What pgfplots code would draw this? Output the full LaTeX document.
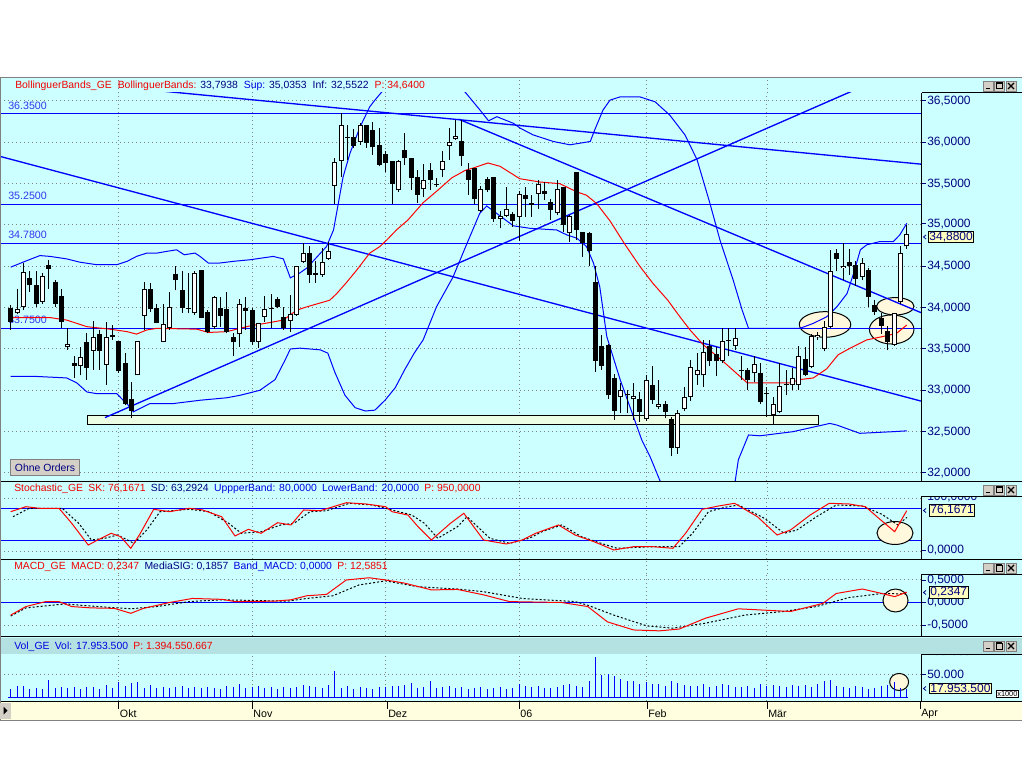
\documentclass[border=0pt]{standalone}
\usepackage{fontspec}
\setmainfont{Liberation Sans}
\usepackage{pgfplots}
\pgfplotsset{compat=1.18}
\usepackage{pgfplotstable}
\definecolor{bg}{HTML}{CCFFFF}
\definecolor{navy}{HTML}{000080}
\definecolor{hred}{HTML}{F00000}
\definecolor{bblue}{HTML}{0000FF}
\definecolor{tblue}{HTML}{0000E0}
\definecolor{lbl}{HTML}{3535F0}
\definecolor{zone}{HTML}{ECFFE4}
\definecolor{cream}{HTML}{FFF8DC}
\definecolor{volhdr}{HTML}{B4E2E2}
\definecolor{strip}{HTML}{FFFFE0}
\definecolor{btn}{HTML}{D4D0C8}
\definecolor{tagy}{HTML}{FFFFC0}
\definecolor{gridc}{HTML}{808080}
\newcommand\hdr{\fontsize{7.8}{9}\selectfont}
\newcommand\lab{\fontsize{9}{10.8}\selectfont}
\newcommand\mon{\fontsize{8}{9.6}\selectfont}
\newcommand\hl{\fontsize{8}{9.6}\selectfont}

\pgfplotstableread{
k hi lo top bot w
0 34.03 33.73 34.00 33.83 0
1 34.23 33.92 33.98 33.94 1
2 34.54 33.97 34.43 34.01 1
3 34.44 34.19 34.36 34.27 0
4 34.44 34.01 34.27 34.05 0
5 34.42 34.05 34.38 34.07 1
6 34.58 34.23 34.52 34.47 0
7 34.33 34.01 34.31 34.05 0
8 34.23 33.75 34.14 33.83 0
9 33.75 33.49 33.56 33.52 1
10 33.41 33.15 33.33 33.30 0
11 33.53 33.18 33.40 33.30 1
12 33.69 33.13 33.58 33.27 0
13 33.84 33.25 33.64 33.48 1
14 33.73 33.25 33.68 33.48 0
15 33.83 33.06 33.65 33.31 1
16 33.79 33.61 33.67 33.65 0
17 33.60 33.21 33.60 33.23 0
18 33.45 32.82 33.33 32.84 0
19 33.10 32.66 32.90 32.75 0
20 33.60 33.18 33.60 33.18 1
21 34.31 33.73 34.22 33.90 1
22 34.30 33.95 34.23 33.98 0
23 34.05 33.81 33.99 33.82 0
24 34.05 33.58 33.80 33.58 1
25 34.19 33.73 34.01 33.75 1
26 34.50 34.21 34.41 34.33 0
27 34.44 33.94 34.21 34.00 0
28 34.42 33.93 34.00 33.99 0
29 34.44 33.91 34.42 33.93 1
30 34.46 33.87 34.46 33.88 0
31 33.97 33.69 33.95 33.71 0
32 34.14 33.74 34.13 33.77 1
33 34.13 33.77 34.00 33.90 0
34 34.19 33.69 33.98 33.71 0
35 33.69 33.41 33.64 33.58 0
36 34.11 33.53 34.05 33.68 1
37 34.13 33.73 34.00 33.96 0
38 33.99 33.55 33.97 33.59 0
39 33.81 33.51 33.81 33.59 1
40 34.14 33.83 33.98 33.89 1
41 34.17 33.75 34.00 33.98 1
42 34.13 33.99 34.10 34.01 0
43 34.01 33.73 33.89 33.75 0
44 34.15 33.71 33.92 33.84 1
45 34.50 33.90 34.50 33.91 1
46 34.78 34.54 34.66 34.55 1
47 34.74 34.30 34.66 34.40 0
48 34.56 34.30 34.42 34.40 0
49 34.72 34.37 34.55 34.39 1
50 34.79 34.58 34.68 34.59 1
51 35.81 35.25 35.76 35.47 1
52 36.35 35.58 36.21 35.77 1
53 36.21 35.79 36.07 36.06 0
54 36.16 35.93 36.06 35.96 0
55 36.23 35.97 36.21 36.01 1
56 36.21 35.93 36.21 35.99 0
57 36.24 35.85 36.15 35.94 0
58 36.17 35.71 35.97 35.73 0
59 35.89 35.64 35.86 35.75 0
60 35.77 35.25 35.77 35.50 0
61 35.79 35.40 35.78 35.42 1
62 36.11 35.73 35.91 35.81 0
63 35.81 35.42 35.81 35.57 0
64 35.67 35.27 35.58 35.36 0
65 35.74 35.34 35.54 35.43 1
66 35.75 35.42 35.67 35.55 0
67 35.57 35.46 35.50 35.48 0
68 35.90 35.58 35.78 35.67 1
69 36.17 35.79 36.01 35.96 1
70 36.27 36.03 36.08 36.04 1
71 36.27 35.71 36.02 35.83 0
72 35.75 35.36 35.67 35.55 0
73 35.69 35.25 35.69 35.31 0
74 35.47 35.16 35.43 35.17 1
75 35.58 35.40 35.56 35.42 0
76 35.58 35.04 35.58 35.07 0
77 35.17 34.96 35.11 35.07 1
78 35.46 35.10 35.19 35.11 1
79 35.16 34.98 35.13 35.05 0
80 35.41 34.81 35.37 35.10 1
81 35.46 35.10 35.36 35.31 0
82 35.36 35.10 35.27 35.24 0
83 35.54 35.19 35.50 35.38 1
84 35.52 35.30 35.41 35.38 0
85 35.32 35.06 35.28 35.18 0
86 35.55 35.12 35.43 35.14 1
87 35.46 34.92 35.46 35.00 0
88 35.12 34.80 35.11 34.90 1
89 35.64 34.82 35.64 34.94 0
90 34.92 34.61 34.91 34.78 0
91 34.91 34.50 34.90 34.68 0
92 34.50 33.22 34.31 33.36 0
93 33.67 33.25 33.54 33.29 0
94 33.56 32.90 33.55 32.94 0
95 33.20 32.64 33.15 32.75 0
96 33.09 32.72 33.00 32.92 1
97 33.01 32.72 32.95 32.94 0
98 33.09 32.64 32.93 32.89 1
99 32.98 32.62 32.89 32.74 0
100 33.19 32.63 33.13 32.65 1
101 33.29 32.84 33.06 32.88 0
102 33.13 32.77 32.84 32.80 1
103 32.87 32.66 32.84 32.74 0
104 32.68 32.20 32.65 32.30 0
105 32.76 32.23 32.73 32.30 1
106 33.04 32.75 32.92 32.77 1
107 33.37 32.87 33.28 32.92 1
108 33.45 33.07 33.25 33.19 1
109 33.61 33.04 33.46 33.18 1
110 33.61 33.29 33.54 33.35 0
111 33.53 33.17 33.44 33.35 0
112 33.75 33.33 33.60 33.35 1
113 33.75 33.41 33.61 33.60 0
114 33.75 33.49 33.63 33.54 1
115 33.41 33.13 33.25 33.24 0
116 33.27 33.00 33.24 33.13 0
117 33.41 33.10 33.32 33.21 1
118 33.33 32.83 33.21 32.86 0
119 33.04 32.68 32.97 32.96 0
120 32.92 32.58 32.84 32.70 1
121 33.33 32.72 33.05 32.74 1
122 33.24 32.94 33.08 33.06 0
123 33.27 33.00 33.15 33.06 1
124 33.54 33.00 33.42 33.06 1
125 33.53 33.17 33.38 33.19 0
126 33.68 33.27 33.66 33.28 1
127 33.70 33.61 33.67 33.64 1
128 33.84 33.47 33.77 33.50 1
129 34.70 33.75 34.44 33.77 1
130 34.71 34.44 34.66 34.59 0
131 34.78 34.33 34.51 34.48 1
132 34.71 34.40 34.55 34.50 0
133 34.57 34.26 34.52 34.35 0
134 34.60 34.33 34.54 34.37 1
135 34.48 34.01 34.46 34.13 0
136 34.09 33.91 34.03 33.95 0
137 33.93 33.68 33.87 33.78 0
138 33.78 33.49 33.72 33.59 0
139 33.93 33.54 33.93 33.55 1
140 34.75 34.05 34.66 34.07 1
141 35.00 34.71 34.89 34.74 1
}\candles

\pgfplotstableread{
k v
0 19
1 25
2 25
3 19
4 21
5 17
6 38
7 20
8 22
9 20
10 23
11 19
12 22
13 23
14 19
15 27
16 21
17 34
18 25
19 32
20 34
21 21
22 27
23 20
24 22
25 21
26 23
27 24
28 20
29 22
30 21
31 22
32 20
33 19
34 25
35 23
36 30
37 20
38 22
39 25
40 20
41 23
42 19
43 22
44 20
45 23
46 27
47 24
48 22
49 20
50 26
51 57
52 21
53 24
54 18
55 22
56 21
57 19
58 23
59 22
60 25
61 24
62 26
63 32
64 21
65 23
66 36
67 20
68 22
69 24
70 21
71 23
72 19
73 21
74 22
75 17
76 20
77 23
78 18
79 20
80 28
81 24
82 22
83 25
84 21
85 20
86 23
87 26
88 30
89 24
90 22
91 36
92 88
93 48
94 50
95 47
96 40
97 36
98 35
99 30
100 33
101 28
102 30
103 25
104 35
105 31
106 27
107 24
108 25
109 30
110 22
111 24
112 28
113 26
114 23
115 22
116 25
117 21
118 28
119 24
120 26
121 25
122 22
123 27
124 24
125 26
126 23
127 28
128 36
129 38
130 24
131 23
132 21
133 25
134 22
135 19
136 20
137 24
138 26
139 34
140 20
141 17.95
}\vols

\pgfplotsset{panel/.style={anchor=south west, scale only axis, width=690.75pt,
  xmin=-1.6837, xmax=143.242, axis line style={draw=none},
  xtick={17,38,59,80,100,119}, xticklabels={}, yticklabels={}, major tick length=0pt,
  grid=major, major grid style={gridc, line width=0.75pt, dash pattern=on 0.75pt off 2.25pt}}}

\newcommand\rl[2]{\draw[navy,line width=0.75pt] (922,#1) -- (926,#1); \node[anchor=west,inner sep=0,text=navy,font=\lab] at (927,#1) {#2};}
\newcommand\btns[1]{%
 \draw[gridc, fill=btn, line width=0.5pt] (983,#1) rectangle (993,{#1+10});
 \draw[black, line width=1.2pt] (985.5,{#1+7.5}) -- (989.5,{#1+7.5});
 \draw[gridc, fill=btn, line width=0.5pt] (994,#1) rectangle (1004,{#1+10});
 \draw[black, line width=0.75pt] (996,{#1+2}) rectangle (1002,{#1+8});
 \draw[black, line width=1.3pt] (996,{#1+2}) -- (1002,{#1+2});
 \draw[gridc, fill=btn, line width=0.5pt] (1006,#1) rectangle (1016,{#1+10});
 \draw[black, line width=1pt] (1008,{#1+2}) -- (1014,{#1+8}) (1008,{#1+8}) -- (1014,{#1+2});}
\newcommand\tag[3]{\node[draw=black, fill=tagy, inner sep=0.7pt, anchor=west, font=\lab, text=navy, line width=0.75pt] at (#1,#2) {#3};
 \draw[navy, line width=0.6pt] (926,{#2-2}) -- (923.5,#2) -- (926,{#2+2});}

\begin{document}
\begin{tikzpicture}
\useasboundingbox (0,0) rectangle (768pt,576pt);
\begin{scope}[x=0.75pt,y=-0.75pt,yshift=576pt]
 \fill[white] (0,0) rectangle (1024,768);
 \fill[bg] (0,78) rectangle (1022,701.5);
 \fill[strip] (0,701.5) rectangle (1022,720);
 % right scale labels
 \rl{101}{36,5000} \rl{142.3}{36,0000} \rl{183.7}{35,5000} \rl{224}{35,0000}
 \rl{266.3}{34,5000} \rl{307.7}{34,0000} \rl{349}{33,5000} \rl{390.3}{33,0000}
 \rl{431.7}{32,5000} \rl{473}{32,0000}
 \rl{497}{100,0000} \rl{550.5}{0,0000}
 \rl{580}{0,5000} \rl{602.5}{0,0000} \rl{625}{-0,5000}
 \rl{651.5}{100.000} \rl{674.3}{50.000}
 \fill[bg] (922,482) rectangle (1022,496.5);
 \fill[volhdr] (0,638) rectangle (1022,654);
 % header grid segments
 \foreach \xx in {118.7,252.2,385.6,519.1,646.2,767.0} {
   \draw[gridc, line width=0.75pt, dash pattern=on 0.75pt off 2.25pt] (\xx,80) -- (\xx,93);
   \draw[gridc, line width=0.75pt, dash pattern=on 0.75pt off 2.25pt] (\xx,483) -- (\xx,496.5);
   \draw[gridc, line width=0.75pt, dash pattern=on 0.75pt off 2.25pt] (\xx,561) -- (\xx,574);
 }
\end{scope}

% ================= MAIN PRICE PANEL =================
\begin{axis}[panel, at={(0pt,215.25pt)}, height=291pt, ymin=31.9032, ymax=36.5968,
  ytick={32,32.5,...,36.5}]
 \draw[fill=zone, line width=0.75pt] (axis cs:12.05,32.693) rectangle (axis cs:127.08,32.591);
 \draw[fill=cream, line width=0.75pt] (axis cs:139.2,34.017) ellipse [x radius=14pt, y radius=6.5pt];
 \draw[fill=cream, line width=0.75pt] (axis cs:138.63,33.736) ellipse [x radius=16.7pt, y radius=10.9pt];
 \draw[fill=cream, line width=0.75pt] (axis cs:128.14,33.797) ellipse [x radius=19.3pt, y radius=9.6pt];
 \node[anchor=west, inner sep=0, font=\hl, text=lbl] at (axis cs:-0.425,36.447) {36.3500};
 \node[anchor=west, inner sep=0, font=\hl, text=lbl] at (axis cs:-0.425,35.347) {35.2500};
 \node[anchor=west, inner sep=0, font=\hl, text=lbl] at (axis cs:-0.425,34.877) {34.7800};
 \node[anchor=west, inner sep=0, font=\hl, text=lbl] at (axis cs:-0.425,33.847) {33.7500};
 % horizontal levels
 \addplot[bblue, line width=1pt] coordinates {(-1.7,36.35) (143.3,36.35)};
 \addplot[bblue, line width=1pt] coordinates {(-1.7,35.25) (143.3,35.25)};
 \addplot[bblue, line width=1pt] coordinates {(-1.7,34.78) (143.3,34.78)};
 \addplot[bblue, line width=1pt] coordinates {(-1.7,33.75) (143.3,33.75)};
 % trend lines
 \addplot[bblue, line width=1pt] coordinates {(-1.684,35.83) (143.24,32.87)};
 \addplot[bblue, line width=1pt] coordinates {(20,36.648) (143.24,35.736)};
 \addplot[bblue, line width=1pt] coordinates {(70.5,36.28) (143.24,33.94)};
 \addplot[bblue, line width=1pt] coordinates {(14.84,32.67) (132.4,36.62)};
 % Bollinger upper
 \addplot[bblue, line width=0.75pt] coordinates {(0,34.49) (2.25,34.56) (4.6,34.63) (6.2,34.62) (8.8,34.59) (10.9,34.55) (13.5,34.52) (16.7,34.52) (18.3,34.56) (19.8,34.62) (21.4,34.66) (23.0,34.66) (24.5,34.68) (26.1,34.70) (27.3,34.64) (29.0,34.66) (29.8,34.62) (31.1,34.54) (32.9,34.54) (35.0,34.56) (37.7,34.58) (41.3,34.62) (42.9,34.59) (44.0,34.36) (45.5,34.42) (46.6,34.48) (49.7,34.74) (50.8,34.94) (52.3,35.58) (53.4,35.87) (55.0,36.19) (56.5,36.43) (57.3,36.51) (58.4,36.61) (60,36.95) (69,36.95) (71.0,36.65) (71.7,36.59) (73.85,36.39) (75.2,36.26) (76.5,36.31) (79.1,36.23) (80.2,36.17) (82.2,36.09) (85.4,36.01) (88.0,35.97) (91.2,36.01) (91.9,36.15) (93.2,36.39) (94.3,36.51) (95.9,36.55) (99.0,36.55) (101.4,36.49) (103.7,36.33) (106.1,36.09) (108.0,35.79) (110.0,35.27) (111.6,34.82) (113.7,34.33) (115.1,33.97) (116.1,33.75) (124.2,33.75) (126.3,33.81) (128.4,33.89) (130.0,34.01) (131.6,34.17) (132.7,34.43) (133.7,34.70) (134.7,34.76) (136.8,34.80) (138.9,34.80) (139.9,34.88) (141.0,35.02)};
 % Bollinger lower
 \addplot[bblue, line width=0.75pt] coordinates {(0,33.17) (3.5,33.17) (8.8,33.15) (10.4,33.09) (12.0,32.98) (13.5,32.96) (16.7,32.96) (17.7,32.88) (18.5,32.82) (19.3,32.74) (21.9,32.84) (25.6,32.84) (29.8,32.88) (34.0,32.91) (36.1,32.94) (39.2,33.00) (41.6,33.13) (43.2,33.37) (44.0,33.50) (45.5,33.51) (48.7,33.49) (49.9,33.45) (51.0,33.22) (52.6,32.94) (54.2,32.79) (55.8,32.75) (57.3,32.76) (58.9,32.88) (60.5,33.03) (62.0,33.25) (63.5,33.45) (64.9,33.61) (67.0,34.01) (69.6,34.37) (71.6,34.74) (73.8,35.14) (74.9,35.23) (79.1,34.99) (81.7,34.96) (85.9,34.94) (87.5,34.88) (89.1,34.84) (90.6,34.74) (91.7,34.54) (92.7,34.25) (93.8,33.65) (95.9,33.13) (98.0,32.68) (99.3,32.40) (100.6,32.20) (102.2,31.90) (103.7,31.6) (108,31.3) (113,31.6) (114.0,31.90) (114.5,32.16) (116.1,32.46) (117.9,32.45) (123.1,32.50) (128.9,32.60) (130.0,32.58) (133.6,32.48) (138.9,32.50) (141.0,32.51)};
 % Bollinger middle
 \addplot[red, line width=0.75pt] coordinates {(0,33.88) (3.5,33.88) (6.2,33.88) (8.8,33.85) (12.0,33.77) (15.6,33.74) (18.3,33.71) (19.8,33.68) (21.4,33.73) (23.0,33.75) (29.3,33.74) (31.1,33.70) (34.0,33.71) (36.1,33.75) (37.7,33.78) (40.8,33.82) (42.9,33.85) (45.0,33.97) (46.6,34.01) (50.2,34.09) (51.3,34.17) (52.9,34.31) (54.4,34.45) (56.5,34.66) (58.1,34.74) (59.2,34.82) (60.7,34.94) (62.5,35.06) (64.9,35.27) (67.2,35.42) (69.4,35.57) (71.5,35.66) (72.8,35.69) (75.1,35.75) (77.0,35.71) (80.1,35.56) (83.3,35.52) (86.4,35.50) (89.1,35.40) (90.6,35.36) (92.2,35.26) (94.3,35.05) (96.7,34.76) (99.0,34.50) (101.1,34.29) (103.4,34.09) (105.3,33.89) (106.9,33.73) (109.0,33.55) (112.1,33.35) (115.9,33.09) (119.0,33.09) (122.6,33.09) (124.2,33.13) (126.3,33.15) (128.4,33.26) (130.2,33.43) (132.1,33.51) (134.7,33.61) (137.8,33.66) (139.4,33.69) (141.0,33.79)};
 % candles
 \addplot[black, line width=0.75pt, quiver={u=0, v=\thisrow{hi}-\thisrow{lo}}] table[x=k, y=lo] {\candles};
 \addplot[black, line width=3.75pt, quiver={u=0, v=\thisrow{top}-\thisrow{bot}}] table[x=k, y=bot] {\candles};
 \addplot[white, line width=2.25pt, quiver={u=0, v=\thisrow{top}-\thisrow{bot}-0.0242},
   restrict expr to domain={\thisrow{w}*(\thisrow{top}-\thisrow{bot})}{0.029:100}]
   table[x=k, y expr=\thisrow{bot}+0.0121] {\candles};
\end{axis}

% ================= STOCHASTIC =================
\begin{axis}[panel, at={(0pt,156.75pt)}, height=46.875pt, ymin=-15.09, ymax=102.83, ytick={0,100}]
 \addplot[bblue, line width=1.1pt] coordinates {(-1.7,80) (143.3,80)};
 \addplot[bblue, line width=1.1pt] coordinates {(-1.7,20) (143.3,20)};
 \draw[fill=cream, line width=0.75pt] (axis cs:139.15,33.96) ellipse [x radius=13.5pt, y radius=8.6pt];
 \addplot[black, line width=0.75pt, dash pattern=on 1.5pt off 1.5pt] coordinates {(0.36,64.7) (2.9,80.6) (8.1,80.6) (10.7,52.3) (12.7,20.8) (14.8,24.0) (16.8,30.2) (19.4,14.5) (21.4,39.6) (23.5,74.2) (28.1,78.7) (31.2,74.2) (34.3,52.3) (36.3,33.4) (39.4,36.4) (42.5,49.1) (44.6,52.3) (47.1,74.2) (49.7,76.0) (53.3,90.0) (56.9,86.8) (60.0,77.4) (63.1,67.9) (65.1,52.3) (67.2,24.0) (70.3,45.8) (71.8,64.7) (75.4,24.0) (78.5,14.5) (81.6,24.0) (83.6,36.4) (86.7,49.1) (89.8,27.0) (92.9,14.5) (95.4,5.1) (101.1,8.1) (105.2,8.1) (107.3,33.4) (109.8,74.2) (112.4,82.5) (114.5,86.8) (118.6,61.7) (121.7,33.4) (123.7,39.6) (126.8,64.7) (129.9,86.8) (134.0,84.9) (137.1,69.2) (139.6,49.1) (141,63.3)};
 \addplot[red, line width=0.75pt] coordinates {(0,74.2) (2.4,83.6) (4.5,80.6) (7.6,80.6) (9.6,52.3) (12.2,11.3) (13.7,20.8) (15.8,33.4) (17.3,27.0) (18.9,5.1) (20.4,33.4) (22.5,78.7) (25.0,74.2) (28.1,80.6) (30.2,77.4) (33.2,64.7) (35.3,28.3) (37.4,40.9) (39.4,33.4) (42.0,53.4) (44.1,49.1) (46.1,77.4) (48.7,76.0) (52.8,91.1) (55.9,88.7) (59.0,83.6) (60.0,74.2) (62.5,67.9) (64.1,45.8) (66.2,20.8) (69.2,52.3) (71.3,71.1) (74.4,20.8) (78.0,13.2) (80.5,20.8) (82.6,33.4) (86.2,49.1) (88.8,30.2) (91.8,17.5) (94.9,1.9) (98.0,8.1) (101.1,8.1) (104.2,5.1) (106.2,33.4) (108.8,78.7) (111.4,84.9) (113.9,90.0) (117.5,64.7) (120.6,30.2) (122.7,39.6) (125.8,67.9) (128.8,90.0) (131.9,88.7) (134.5,83.6) (136.6,61.7) (139.1,36.4) (141,76.2)};
\end{axis}

% ================= MACD =================
\begin{axis}[panel, at={(0pt,99pt)}, height=46.5pt, ymin=-0.7444, ymax=0.6333, ytick={-0.5,0.5}]
 \addplot[bblue, line width=1.1pt] coordinates {(-1.7,0) (143.3,0)};
 \draw[fill=cream, line width=0.75pt] (axis cs:139.23,0.044) ellipse [x radius=9.4pt, y radius=8.6pt];
 \addplot[black, line width=0.75pt, dash pattern=on 1.5pt off 1.5pt] coordinates {(0,-0.30) (2.4,-0.12) (8.6,-0.03) (11.7,-0.07) (18.9,-0.14) (23.0,-0.09) (28.1,0.02) (33.2,0.06) (43.5,0.03) (46.6,0.09) (50.7,0.15) (54.8,0.39) (59.0,0.48) (64.1,0.35) (70.3,0.30) (74.4,0.24) (80.5,0.09) (88.8,0.02) (90.8,-0.06) (94.9,-0.28) (100.1,-0.52) (104.2,-0.57) (109.3,-0.46) (115.5,-0.28) (121.6,-0.20) (126.8,-0.09) (131.9,0.11) (137.1,0.20) (141,0.19)};
 \addplot[red, line width=0.75pt] coordinates {(0,-0.28) (2.4,-0.09) (5.5,0.02) (7.6,0.02) (9.6,-0.09) (12.7,-0.12) (16.3,-0.13) (18.9,-0.24) (20.9,-0.13) (25.0,0.0) (28.6,0.09) (33.3,0.07) (35.3,0.02) (41.5,0.03) (44.1,0.06) (46.6,0.15) (49.7,0.18) (52.8,0.50) (56.4,0.55) (59.0,0.50) (62.0,0.43) (66.2,0.28) (70.3,0.29) (74.4,0.17) (78.5,0.02) (86.7,0.0) (90.8,-0.09) (93.9,-0.43) (98.0,-0.61) (102.1,-0.63) (105.2,-0.59) (109.3,-0.35) (114.5,-0.14) (118.6,-0.17) (122.7,-0.20) (127.8,-0.02) (129.9,0.20) (134.0,0.30) (137.1,0.20) (139.1,0.13) (141,0.23)};
\end{axis}

% ================= VOLUME =================
\begin{axis}[panel, at={(0pt,50.25pt)}, height=35.25pt, ymin=-8.04, ymax=94.13, ytick={50}]
 \draw[fill=cream, line width=0.75pt] (axis cs:139.8,33.3) ellipse [x radius=7.1pt, y radius=6.4pt];
 \addplot[bblue, line width=0.75pt] coordinates {(-0.4,0) (141.2,0)};
 \addplot[bblue, line width=0.75pt, ycomb] table[x=k, y=v] {\vols};
\end{axis}

% ================= FRAMES AND TEXT =================
\begin{scope}[x=0.75pt,y=-0.75pt,yshift=576pt]
 \draw[gridc, line width=0.75pt] (0,78) -- (1022,78);
 \draw[black, line width=0.75pt] (0,481.5) -- (1022,481.5) (0,559.5) -- (1022,559.5)
   (0,636.5) -- (1022,636.5) (0,701.5) -- (1022,701.5);
 \draw[black, line width=0.75pt] (921.5,93) -- (921.5,481.5) (921.5,496.5) -- (921.5,559.5)
   (921.5,574) -- (921.5,636.5) (921.5,654) -- (921.5,701.5);
 \draw[black, line width=0.75pt] (921.5,93) -- (1022,93) (921.5,496.5) -- (1022,496.5)
   (921.5,574) -- (1022,574) (921.5,654) -- (1022,654);
 \draw[gridc, line width=0.75pt] (0,720) -- (1022,720);
 \draw[gridc, line width=0.5pt] (0.5,78) -- (0.5,720);
 % tags
 \tag{928}{237}{34,8800}
 \tag{929}{510.5}{76,1671}
 \tag{929}{592.5}{0,2347}
 \tag{929}{688.5}{17.953.500}
 \node[draw=black, fill=white, inner sep=0.8pt, anchor=north west, font=\fontsize{5.5}{6}\selectfont, line width=0.5pt] at (996,690) {x1000};
 % headers
 \node[anchor=west, inner sep=0, font=\hdr] at (15,85.5) {\color{hred}BollinguerBands\_GE\hspace{4.5pt}BollinguerBands: \color{navy}33,7938\hspace{4.5pt}\color{tblue}Sup: \color{navy}35,0353\hspace{4.5pt}Inf: 32,5522\hspace{4.5pt}\color{hred}P: 34,6400};
 \node[anchor=west, inner sep=0, font=\hdr] at (14,489) {\color{hred}Stochastic\_GE\hspace{4pt}SK: 76,1671\hspace{4pt}\color{navy}SD: 63,2924\hspace{4pt}\color{tblue}UppperBand: 80,0000\hspace{4pt}LowerBand: 20,0000\hspace{4pt}\color{hred}P: 950,0000};
 \node[anchor=west, inner sep=0, font=\hdr] at (14,566.5) {\color{hred}MACD\_GE\hspace{4pt}MACD: 0,2347\hspace{4pt}\color{navy}MediaSIG: 0,1857\hspace{4pt}\color{tblue}Band\_MACD: 0,0000\hspace{4pt}\color{hred}P: 12,5851};
 \node[anchor=west, inner sep=0, font=\hdr] at (14,647) {\color{tblue}Vol\_GE\hspace{4pt}Vol: 17.953.500\hspace{4pt}\color{hred}P: 1.394.550.667};
 % buttons
 \btns{81} \btns{485} \btns{563} \btns{641}
 % Ohne Orders
 \node[draw=gridc, fill=btn, inner sep=0, anchor=north west, minimum width=51.75pt, minimum height=12pt, font=\hdr, text=navy, line width=0.75pt] at (10,459) {Ohne Orders};
 % x strip
 \fill[btn] (0,702.5) rectangle (11,719);
 \fill[black] (3.5,706.5) -- (7.5,710.5) -- (3.5,714.5) -- cycle;
 \foreach \xx/\tt in {118.7/Okt,252.2/Nov,387/Dez,519.1/06,647/Feb,767/M\"ar,920/Apr} {
   \draw[black, line width=0.75pt] (\xx,702) -- (\xx,709);
   \node[anchor=west, inner sep=0, font=\mon] at ({\xx+1},714) {\tt};
 }
\end{scope}
\end{tikzpicture}
\end{document}
